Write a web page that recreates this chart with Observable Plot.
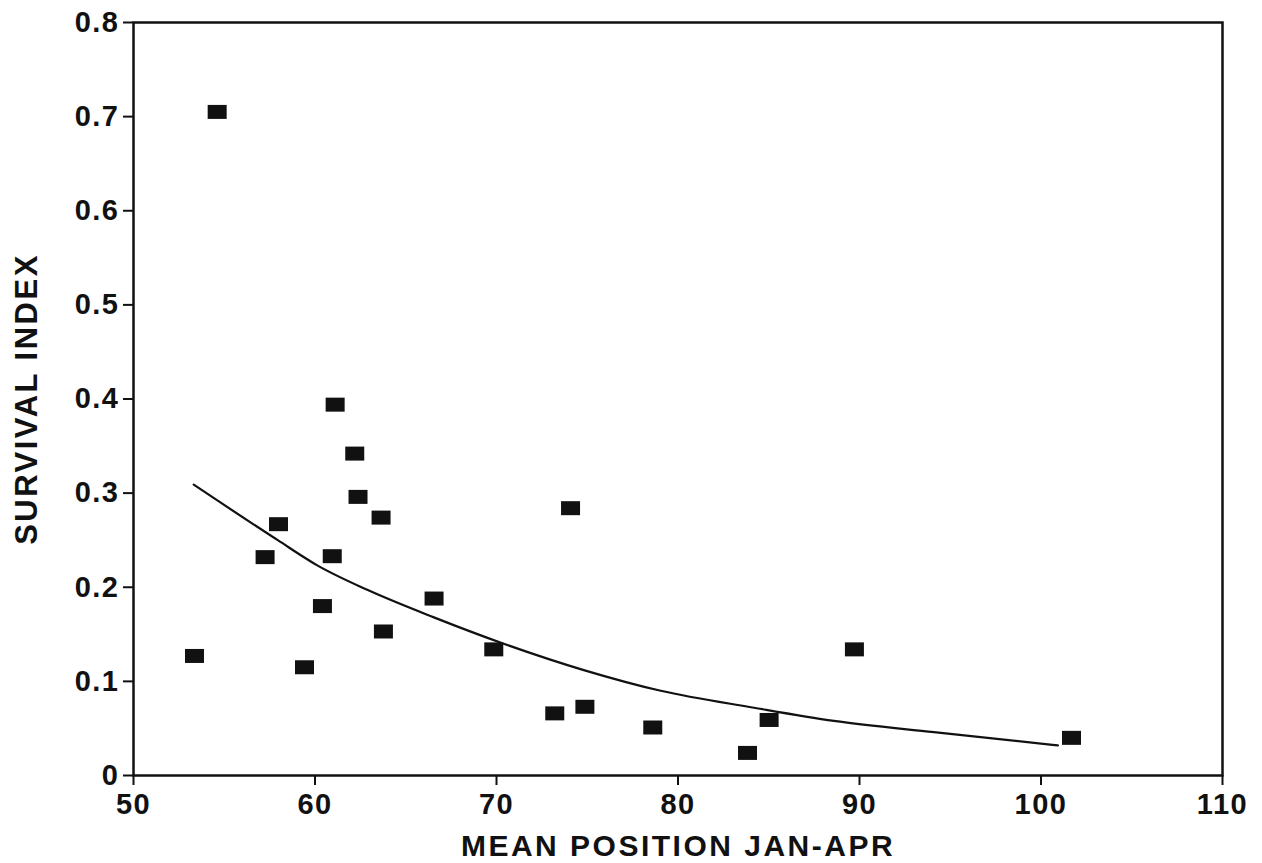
<!DOCTYPE html>
<html>
<head>
<meta charset="utf-8">
<script src="https://cdn.jsdelivr.net/npm/d3@7"></script>
<script src="https://cdn.jsdelivr.net/npm/@observablehq/plot@0.6"></script>
<style>
  html, body { margin: 0; padding: 0; background: #fff; }
  #chart svg { display: block; }
  #chart svg text { letter-spacing: 1.5px; }
  #chart svg .title-text text { letter-spacing: 2.5px; }
</style>
</head>
<body>
<div id="chart"></div>
<script>
// Observed points (mean position Jan-Apr vs survival index)
const meanPosition = [53.36, 54.61, 57.25, 57.99, 59.42, 60.41, 60.95, 61.11, 62.19, 62.37, 63.64,
                      63.77, 66.56, 69.85, 73.21, 74.08, 74.87, 78.61, 83.83, 85.02, 89.72, 101.68];
const survivalIndex = [0.127, 0.705, 0.232, 0.267, 0.115, 0.180, 0.233, 0.394, 0.342, 0.296, 0.274,
                       0.153, 0.188, 0.134, 0.066, 0.284, 0.073, 0.051, 0.024, 0.059, 0.134, 0.040];

// Fitted curve
const fitPosition = [53.32, 57.95, 60.15, 62.91, 66.55, 70.40, 74.81, 79.05, 84.18, 88.59, 94.10, 100.93];
const fitSurvival = [0.309, 0.250, 0.223, 0.197, 0.168, 0.140, 0.112, 0.090, 0.072, 0.058, 0.046, 0.032];

// Tick labels
const xTicks = [50, 60, 70, 80, 90, 100, 110];
const yTicks = [0, 0.1, 0.2, 0.3, 0.4, 0.5, 0.6, 0.7, 0.8];
const xTitle = "MEAN POSITION JAN-APR";
const yTitle = "SURVIVAL INDEX";

const points = meanPosition.map((x, i) => ({x, y: survivalIndex[i]}));
const fit = fitPosition.map((x, i) => ({x, y: fitSurvival[i]}));

const rectSymbol = {
  draw(context) {
    context.rect(-9.5, -7, 19, 14);
  }
};

const ink = "#111";
const font = "'Liberation Sans', Arial, Helvetica, sans-serif";

const chart = Plot.plot({
  width: 1262,
  height: 863,
  marginLeft: 133,
  marginRight: 40,
  marginTop: 22,
  marginBottom: 88,
  style: {fontFamily: font, color: ink, background: "#fff", overflow: "visible"},
  x: {domain: [50, 110]},
  y: {domain: [0, 0.8]},
  marks: [
    Plot.axisX({
      ticks: xTicks, tickSize: 10, tickPadding: 8, tickFormat: d => String(d),
      fontSize: 29, fontWeight: "bold", label: null, stroke: ink, strokeWidth: 2, fill: ink
    }),
    Plot.axisY({
      ticks: yTicks, tickSize: 10, tickPadding: 4,
      tickFormat: d => d === 0 ? "0" : d3.format(".1f")(d),
      fontSize: 29, fontWeight: "bold", label: null, stroke: ink, strokeWidth: 2, fill: ink
    }),
    Plot.frame({stroke: ink, strokeWidth: 2.5}),
    Plot.line(fit, {x: "x", y: "y", stroke: ink, strokeWidth: 2.2, curve: "monotone-x"}),
    Plot.dot(points, {x: "x", y: "y", symbol: rectSymbol, fill: ink, stroke: "none", r: 8}),
    Plot.text([xTitle], {
      text: d => d, frameAnchor: "bottom", lineAnchor: "bottom", dy: 80, fontSize: 30, fontWeight: "bold",
      fill: ink, className: "title-text"
    }),
    Plot.text([yTitle], {
      text: d => d, frameAnchor: "left", textAnchor: "middle", lineAnchor: "middle",
      dx: -106, rotate: -90, fontSize: 31, fontWeight: "bold",
      fill: ink, className: "title-text"
    })
  ]
});

document.getElementById("chart").appendChild(chart);
</script>
</body>
</html>
